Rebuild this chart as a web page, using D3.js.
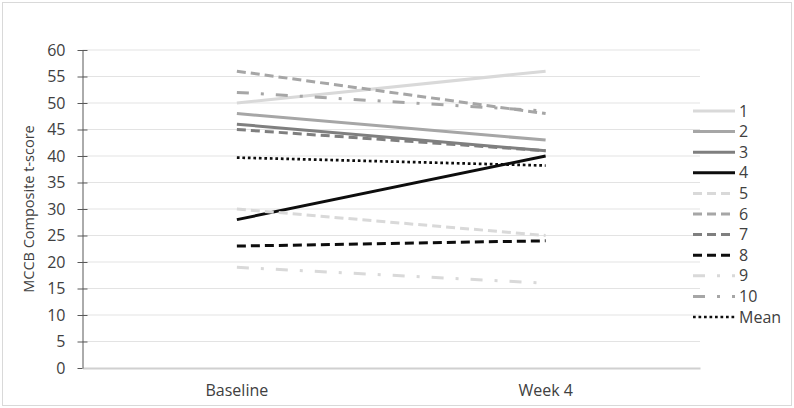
<!DOCTYPE html>
<html>
<head>
<meta charset="utf-8">
<script src="https://cdn.jsdelivr.net/npm/d3@7"></script>
<style>
  body { margin: 0; background: #fff; }
  text { font-family: "Open Sans", "Liberation Sans", sans-serif; fill: #404040; }
</style>
</head>
<body>
<div class="chart"></div>
<script>
// Data
let timepoints = ["Baseline", "Week 4"];
let series_names = ["1", "2", "3", "4", "5", "6", "7", "8", "9", "10", "Mean"];
let baseline = [50, 48, 46, 28, 30, 56, 45, 23, 19, 52, 39.7];
let week4 = [56, 43, 41, 40, 25, 48, 41, 24, 16, 48.5, 38.2];
let y_ticks = [0, 5, 10, 15, 20, 25, 30, 35, 40, 45, 50, 55, 60];

// Styles per series
let colors = ["#d9d9d9", "#a6a6a6", "#7f7f7f", "#0d0d0d",
              "#d9d9d9", "#a6a6a6", "#7f7f7f", "#0d0d0d",
              "#d9d9d9", "#a6a6a6", "#0d0d0d"];
let dashes = [null, null, null, null,
              "9,5", "9,5", "9,5", "9,5",
              "12,12,3,12", "12,12,3,12", "2.7,2.8"];

let width = 794, height = 408;
let plot = {left: 82.5, right: 700, top: 50, bottom: 368};

let svg = d3.select("div.chart").append("svg")
    .attr("width", width)
    .attr("height", height);

// Outer frame
svg.append("rect")
    .attr("x", 2.5).attr("y", 2.5)
    .attr("width", width - 5).attr("height", height - 5)
    .attr("fill", "#fff")
    .attr("stroke", "#d9d9d9");

let x = d3.scaleBand().domain(timepoints).range([plot.left, plot.right]);
let y = d3.scaleLinear().domain([0, 60]).range([plot.bottom, plot.top]);

// Gridlines
svg.append("g").selectAll("line")
  .data(y_ticks.filter(d => d > 0))
  .enter().append("line")
    .attr("x1", plot.left).attr("x2", plot.right)
    .attr("y1", d => y(d)).attr("y2", d => y(d))
    .attr("stroke", "#e3e3e3")
    .attr("stroke-width", 1);

// X axis (baseline at 0)
let xAxis = svg.append("g")
    .attr("transform", "translate(0," + plot.bottom + ")")
    .call(d3.axisBottom(x).tickSize(0).tickPadding(17));
xAxis.select(".domain").attr("stroke", "#d0d0d0").attr("stroke-width", 2);
xAxis.selectAll("text").style("font-size", "16px").attr("fill", "#404040");

// Y axis, ticks crossing the line
let yAxis = svg.append("g")
    .attr("transform", "translate(" + plot.left + ",0)")
    .call(d3.axisLeft(y).tickValues(y_ticks).tickSize(5).tickSizeOuter(0).tickPadding(12));
yAxis.select(".domain").attr("stroke", "#595959");
yAxis.selectAll(".tick line").attr("stroke", "#595959")
    .attr("x2", d => d > 0 ? 5 : 0).attr("x1", -5);
yAxis.selectAll("text").style("font-size", "16px").attr("fill", "#404040");

// Y axis title
svg.append("text")
    .attr("transform", "translate(34," + ((plot.top + plot.bottom) / 2) + ") rotate(-90)")
    .attr("text-anchor", "middle")
    .style("font-size", "14.5px")
    .text("MCCB Composite t-score");

// Lines
let line = d3.line()
    .x(d => x(d.t) + x.bandwidth() / 2)
    .y(d => y(d.v));

series_names.forEach(function(name, i) {
  let pts = [{t: timepoints[0], v: baseline[i]}, {t: timepoints[1], v: week4[i]}];
  let path = svg.append("path")
      .datum(pts)
      .attr("d", line)
      .attr("fill", "none")
      .attr("stroke", colors[i])
      .attr("stroke-width", name == "Mean" ? 2.7 : 3);
  if (dashes[i]) path.attr("stroke-dasharray", dashes[i]);
});

// Legend
let legend = svg.append("g");
series_names.forEach(function(name, i) {
  let ly = 111 + i * 20.6;
  let l = legend.append("line")
      .attr("x1", 693).attr("x2", 735)
      .attr("y1", ly).attr("y2", ly)
      .attr("stroke", colors[i])
      .attr("stroke-width", name == "Mean" ? 2.7 : 3);
  if (dashes[i]) l.attr("stroke-dasharray", dashes[i]);
  legend.append("text")
      .attr("x", 739).attr("y", ly)
      .attr("dy", "0.35em")
      .style("font-size", "16px")
      .text(name);
});
</script>
</body>
</html>
